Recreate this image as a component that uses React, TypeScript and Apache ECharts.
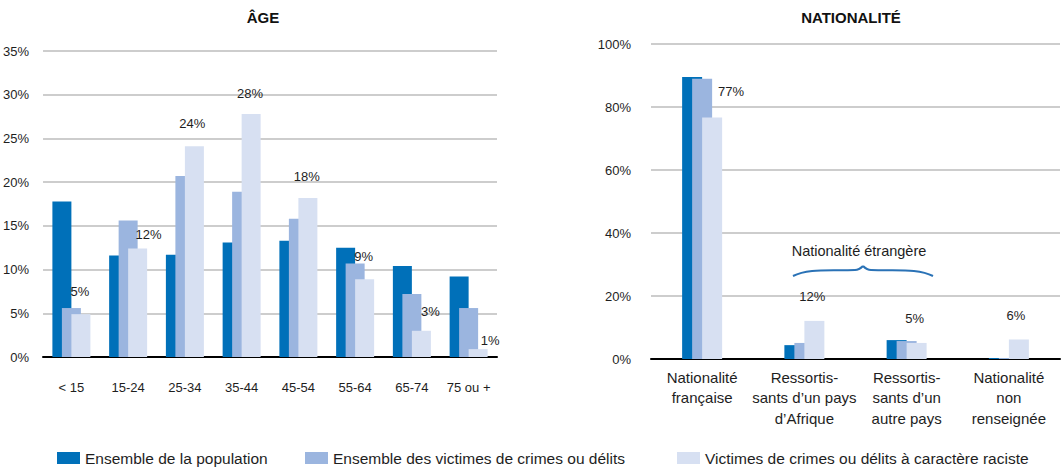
import React, { useEffect, useRef } from "react";
import * as echarts from "echarts";

// ---------- data ----------
const ageCategories = ["< 15", "15-24", "25-34", "35-44", "45-54", "55-64", "65-74", "75 ou +"];
const agePopulation = [17.8, 11.6, 11.7, 13.1, 13.3, 12.5, 10.4, 9.2];
const ageVictims = [5.6, 15.6, 20.7, 18.9, 15.8, 10.7, 7.2, 5.6];
const ageRacist = [4.9, 12.4, 24.1, 27.8, 18.2, 8.9, 3.0, 0.9];

const natCategories = [
  "Nationalité\nfrançaise",
  "Ressortis-\nsants d’un pays\nd’Afrique",
  "Ressortis-\nsants d’un\nautre pays",
  "Nationalité\nnon\nrenseignée",
];
const natPopulation = [89.5, 4.4, 6.0, 0.3];
const natVictims = [89.0, 5.1, 5.7, 0.3];
const natRacist = [76.7, 12.1, 5.1, 6.2];

const ageTicks = { min: 0, max: 35, interval: 5 };
const natTicks = { min: 0, max: 100, interval: 20 };

const seriesNames = [
  "Ensemble de la population",
  "Ensemble des victimes de crimes ou délits",
  "Victimes de crimes ou délits à caractère raciste",
];
const titles = ["ÂGE", "NATIONALITÉ"];
const annotationText = "Nationalité étrangère";

// ---------- styles ----------
const COLORS = ["#0070b9", "#9bb5df", "#d7e0f2"];
const FONT = '"Liberation Sans", Arial, sans-serif';
const TEXT = "#1e1e1e";
const ageLabelShift = [[-1, 0], [11, 8], [-2, 0], [-1, 2], [-1, 1], [-1, 0], [9, 3], [12, 14]];
const natLabelShift = [[19, -1], [-2, 0], [-2, 0], [-3, 1]];

function barSeries(name: string, values: number[], color: string, idx: number, width: number, shifts?: number[][], dist?: number) {
  return {
    type: "bar",
    name,
    xAxisIndex: idx,
    yAxisIndex: idx,
    barWidth: width,
    barGap: "-50%",
    itemStyle: { color },
    data: values.map((v, i) =>
      shifts
        ? {
            value: v,
            label: {
              show: true,
              position: "top",
              distance: dist,
              offset: shifts[i],
              formatter: (p: any) => Math.round(p.value) + "%",
              fontFamily: FONT,
              fontSize: 13,
              color: TEXT,
            },
          }
        : v
    ),
  };
}

export default function App() {
  const ref = useRef<HTMLDivElement>(null);
  useEffect(() => {
    if (!ref.current) return;
    const chart = echarts.init(ref.current, null, { renderer: "svg" });
    const yAxisCommon = (ticks: any, margin: number) => ({
      type: "value",
      min: ticks.min,
      max: ticks.max,
      interval: ticks.interval,
      axisLine: { show: false },
      axisTick: { show: false },
      splitLine: { lineStyle: { color: "#bdbdbd", width: 1.5 } },
      axisLabel: {
        formatter: "{value}%",
        fontFamily: FONT,
        fontSize: 13,
        color: TEXT,
        margin,
      },
    });
    const braceColor = "#2a72b6";
    const option: any = {
      animation: false,
      textStyle: { fontFamily: FONT },
      title: titles.map((t, i) => ({
        text: t,
        left: i === 0 ? 263 : 851,
        textAlign: "center",
        top: 10,
        padding: 0,
        textStyle: { fontFamily: FONT, fontSize: 15, fontWeight: "bold", color: "#111" },
      })),
      legend: seriesNames.map((n, i) => ({
        data: [n],
        left: [57, 305, 677][i],
        top: 450,
        padding: 0,
        icon: "rect",
        itemWidth: 23,
        itemHeight: 12,
        selectedMode: false,
        textStyle: { fontFamily: FONT, fontSize: 15.5, color: TEXT, lineHeight: 16 },
      })),
      grid: [
        { left: 42, right: 1064 - 497, top: 51, bottom: 468 - 357 },
        { left: 651, right: 1064 - 1060, top: 44, bottom: 468 - 359 },
      ],
      xAxis: [
        {
          type: "category",
          gridIndex: 0,
          data: ageCategories,
          axisLine: { lineStyle: { color: "#000", width: 2 } },
          axisTick: { show: false },
          axisLabel: { fontFamily: FONT, fontSize: 13, color: TEXT, margin: 23, lineHeight: 15, interval: 0 },
        },
        {
          type: "category",
          gridIndex: 1,
          data: natCategories,
          axisLine: { lineStyle: { color: "#000", width: 2 } },
          axisTick: { show: false },
          axisLabel: { fontFamily: FONT, fontSize: 15, color: TEXT, margin: 8, lineHeight: 20.5, interval: 0 },
        },
      ],
      yAxis: [
        { ...yAxisCommon(ageTicks, 14), gridIndex: 0 },
        { ...yAxisCommon(natTicks, 20), gridIndex: 1 },
      ],
      series: [
        barSeries(seriesNames[0], agePopulation, COLORS[0], 0, 19),
        barSeries(seriesNames[1], ageVictims, COLORS[1], 0, 19),
        barSeries(seriesNames[2], ageRacist, COLORS[2], 0, 19, ageLabelShift, 16),
        barSeries(seriesNames[0], natPopulation, COLORS[0], 1, 20),
        barSeries(seriesNames[1], natVictims, COLORS[1], 1, 20),
        barSeries(seriesNames[2], natRacist, COLORS[2], 1, 20, natLabelShift, 18),
      ],
      graphic: [
        {
          type: "text",
          x: 859,
          y: 251,
          style: {
            text: annotationText,
            fontFamily: FONT,
            fontSize: 14.5,
            fill: TEXT,
            align: "center",
            verticalAlign: "middle",
          },
        },
        {
          type: "bezierCurve",
          shape: { x1: 793, y1: 276, cpx1: 808, cpy1: 268, cpx2: 830, cpy2: 271, x2: 855, y2: 270 },
          style: { stroke: braceColor, lineWidth: 2, fill: "none" },
        },
        {
          type: "bezierCurve",
          shape: { x1: 855, y1: 270, cpx1: 859, cpy1: 270, cpx2: 861, cpy2: 268, x2: 863, y2: 266 },
          style: { stroke: braceColor, lineWidth: 2, fill: "none" },
        },
        {
          type: "bezierCurve",
          shape: { x1: 863, y1: 266, cpx1: 865, cpy1: 268, cpx2: 867, cpy2: 270, x2: 871, y2: 270 },
          style: { stroke: braceColor, lineWidth: 2, fill: "none" },
        },
        {
          type: "bezierCurve",
          shape: { x1: 871, y1: 270, cpx1: 896, cpy1: 271, cpx2: 918, cpy2: 268, x2: 933, y2: 276 },
          style: { stroke: braceColor, lineWidth: 2, fill: "none" },
        },
      ],
    };
    chart.setOption(option);
    return () => chart.dispose();
  }, []);
  return (
    <div
      ref={ref}
      style={{ position: "fixed", left: 0, top: 0, width: 1064, height: 468, background: "#fff" }}
    />
  );
}
